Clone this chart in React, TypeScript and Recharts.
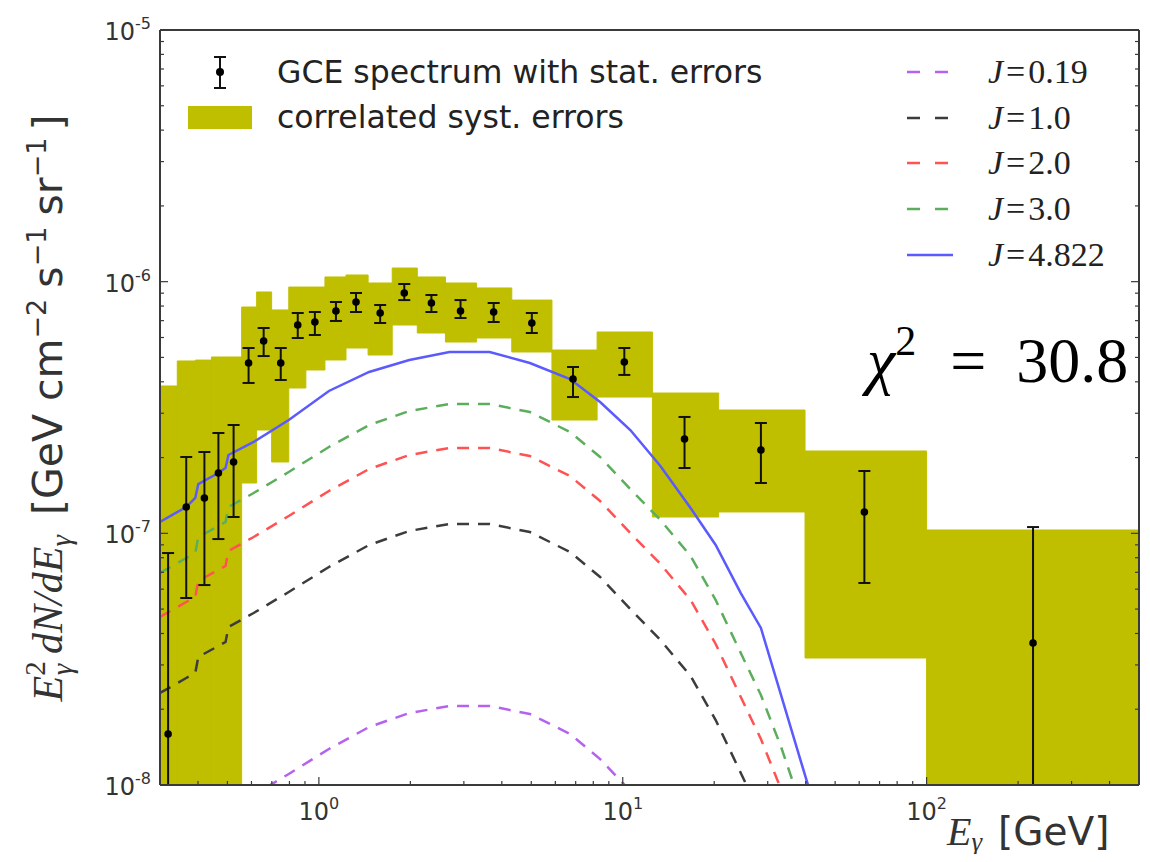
import React from "react";
import {
  ComposedChart,
  XAxis,
  YAxis,
  Line,
  Scatter,
  ErrorBar,
  ReferenceArea,
} from "recharts";

const FRAME = "#3a3a3a";
const OLIVE = "#bfbf00";

// edges (GeV) of the correlated systematic boxes
const binLo = [0.3, 0.342, 0.392, 0.443, 0.497, 0.557, 0.624, 0.699, 0.796, 0.906, 1.047, 1.228, 1.452, 1.743, 2.108, 2.609, 3.304, 4.313, 5.848, 8.234, 12.52, 20.69, 39.8, 100];
const binHi = [0.342, 0.392, 0.443, 0.497, 0.557, 0.624, 0.699, 0.796, 0.906, 1.047, 1.228, 1.452, 1.743, 2.108, 2.609, 3.304, 4.313, 5.848, 8.234, 12.52, 20.69, 39.8, 100, 500];
const sysLow = [1e-8, 1e-8, 1e-8, 1e-8, 1e-8, 1.585e-7, 2.574e-7, 1.921e-7, 3.78e-7, 4.457e-7, 4.885e-7, 5.45e-7, 5.112e-7, 6.726e-7, 6.252e-7, 5.757e-7, 5.973e-7, 5.255e-7, 2.82e-7, 3.48e-7, 1.161e-7, 1.216e-7, 3.196e-8, 1e-8];
const sysHigh = [3.85e-7, 4.84e-7, 4.88e-7, 5.02e-7, 5.02e-7, 7.93e-7, 9.1e-7, 7.72e-7, 9.52e-7, 9.52e-7, 1.044e-6, 1.063e-6, 9.88e-7, 1.133e-6, 1.044e-6, 9.88e-7, 9.44e-7, 8.45e-7, 5.35e-7, 6.31e-7, 3.61e-7, 3.09e-7, 2.124e-7, 1.031e-7];

// GCE spectrum with stat. errors
const gceE = [0.319, 0.366, 0.42, 0.467, 0.524, 0.587, 0.658, 0.749, 0.852, 0.97, 1.138, 1.325, 1.591, 1.91, 2.346, 2.925, 3.76, 5.021, 6.861, 10.12, 15.97, 28.49, 62.4, 224];
const gceV = [1.595e-8, 1.273e-7, 1.382e-7, 1.737e-7, 1.921e-7, 4.751e-7, 5.81e-7, 4.751e-7, 6.726e-7, 6.914e-7, 7.645e-7, 8.303e-7, 7.506e-7, 9.017e-7, 8.227e-7, 7.645e-7, 7.575e-7, 6.851e-7, 4.105e-7, 4.795e-7, 2.37e-7, 2.144e-7, 1.216e-7, 3.666e-8];
const gceLo = [1e-8, 5.535e-8, 6.23e-8, 9.49e-8, 1.161e-7, 3.958e-7, 5.064e-7, 4.068e-7, 5.973e-7, 6.14e-7, 6.98e-7, 7.575e-7, 6.851e-7, 8.45e-7, 7.575e-7, 7.17e-7, 6.914e-7, 6.252e-7, 3.48e-7, 4.26e-7, 1.818e-7, 1.585e-7, 6.35e-8, 1e-8];
const gceHi = [8.35e-8, 2.011e-7, 2.105e-7, 2.504e-7, 2.694e-7, 5.45e-7, 6.544e-7, 5.45e-7, 7.506e-7, 7.575e-7, 8.303e-7, 9.017e-7, 8.076e-7, 9.79e-7, 8.85e-7, 8.45e-7, 8.227e-7, 7.506e-7, 4.58e-7, 5.45e-7, 2.9e-7, 2.744e-7, 1.769e-7, 1.059e-7];

// model curves, sampled on a common energy grid
const modelE = [0.3, 0.366, 0.392, 0.401, 0.46, 0.493, 0.504, 0.61, 0.796, 1.079, 1.463, 1.984, 2.691, 3.648, 4.946, 6.706, 8.424, 10.59, 13.3, 16.72, 20.22, 24.46, 28.49, 33.17, 38.63, 44.98];
const j019 = [4.39e-9, 5.03e-9, 5.27e-9, 6.1e-9, 6.69e-9, 7.0e-9, 8.03e-9, 9.13e-9, 1.106e-8, 1.39e-8, 1.7e-8, 1.932e-8, 2.06e-8, 2.06e-8, 1.915e-8, 1.595e-8, 1.268e-8, 9.47e-9, 7.13e-9, 5.1e-9, 3.4e-9, 2.1e-9, 1.4e-9, 8e-10, 5e-10, 3e-10];
const j10 = [2.32e-8, 2.662e-8, 2.787e-8, 3.226e-8, 3.535e-8, 3.7e-8, 4.245e-8, 4.825e-8, 5.846e-8, 7.35e-8, 8.99e-8, 1.022e-7, 1.089e-7, 1.089e-7, 1.012e-7, 8.43e-8, 6.707e-8, 5.005e-8, 3.769e-8, 2.711e-8, 1.812e-8, 1.116e-8, 7.6e-9, 4.5e-9, 2.5e-9, 1.4e-9];
const j20 = [4.651e-8, 5.337e-8, 5.585e-8, 6.465e-8, 7.087e-8, 7.418e-8, 8.507e-8, 9.67e-8, 1.172e-7, 1.473e-7, 1.801e-7, 2.048e-7, 2.183e-7, 2.183e-7, 2.029e-7, 1.689e-7, 1.344e-7, 1.003e-7, 7.555e-8, 5.434e-8, 3.633e-8, 2.237e-8, 1.523e-8, 9.64e-9, 5.6e-9, 3.4e-9];
const j30 = [6.957e-8, 7.98e-8, 8.35e-8, 9.67e-8, 1.059e-7, 1.109e-7, 1.273e-7, 1.446e-7, 1.753e-7, 2.203e-7, 2.694e-7, 3.062e-7, 3.265e-7, 3.265e-7, 3.034e-7, 2.527e-7, 2.011e-7, 1.5e-7, 1.13e-7, 8.125e-8, 5.434e-8, 3.345e-8, 2.278e-8, 1.42e-8, 8.25e-9, 5.3e-9];
const j4822 = [1.109e-7, 1.273e-7, 1.382e-7, 1.57e-7, 1.721e-7, 1.818e-7, 2.048e-7, 2.307e-7, 2.82e-7, 3.678e-7, 4.377e-7, 4.885e-7, 5.254e-7, 5.254e-7, 4.751e-7, 4.105e-7, 3.324e-7, 2.574e-7, 1.852e-7, 1.261e-7, 8.99e-8, 5.79e-8, 4.206e-8, 2.279e-8, 1.234e-8, 6.69e-9];

const curves = [
  { key: "j019", label: "0.19", color: "#b463f0", dash: "12 9", values: j019 },
  { key: "j10", label: "1.0", color: "#3c3c3c", dash: "12 9", values: j10 },
  { key: "j20", label: "2.0", color: "#ff5252", dash: "12 9", values: j20 },
  { key: "j30", label: "3.0", color: "#5cae5c", dash: "12 9", values: j30 },
  { key: "j4822", label: "4.822", color: "#5a5aff", dash: undefined, values: j4822 },
];

const xTicks = [0.3, 0.4, 0.5, 0.6, 0.7, 0.8, 0.9, 1, 2, 3, 4, 5, 6, 7, 8, 9, 10, 20, 30, 40, 50, 60, 70, 80, 90, 100, 200, 300, 400, 500];
const yTicks = [1e-8, 2e-8, 3e-8, 4e-8, 5e-8, 6e-8, 7e-8, 8e-8, 9e-8, 1e-7, 2e-7, 3e-7, 4e-7, 5e-7, 6e-7, 7e-7, 8e-7, 9e-7, 1e-6, 2e-6, 3e-6, 4e-6, 5e-6, 6e-6, 7e-6, 8e-6, 9e-6, 1e-5];

const modelRows = modelE.map((e, i) => {
  const row: Record<string, number> = { e };
  curves.forEach((c) => (row[c.key] = c.values[i]));
  return row;
});
const gceRows = gceE.map((e, i) => ({
  e,
  v: gceV[i],
  err: [gceV[i] - gceLo[i], gceHi[i] - gceV[i]],
}));

const decade = (v: number) => {
  const l = Math.log10(v);
  return Math.abs(l - Math.round(l)) < 1e-6 ? Math.round(l) : null;
};

const W = 1134;
const H = 846;
const sans = "DejaVu Sans";
const serif = "Liberation Serif";

const BottomTick = (p: any) => {
  const d = decade(p.payload.value);
  return (
    <g>
      <line x1={p.x} x2={p.x} y1={p.y} y2={p.y - (d !== null ? 8 : 4)} stroke={FRAME} strokeWidth={1.2} />
      {d !== null && (
        <text x={p.x} y={p.y + 35} textAnchor="middle" fontFamily={sans} fontSize={24} fill="#333">
          10<tspan dy={-11} fontSize={16}>{d}</tspan>
        </text>
      )}
    </g>
  );
};
const TopTick = (p: any) => {
  const d = decade(p.payload.value);
  return <line x1={p.x} x2={p.x} y1={p.y} y2={p.y + (d !== null ? 8 : 4)} stroke={FRAME} strokeWidth={1.2} />;
};
const LeftTick = (p: any) => {
  const d = decade(p.payload.value);
  return (
    <g>
      <line x1={p.x} x2={p.x + (d !== null ? 8 : 4)} y1={p.y} y2={p.y} stroke={FRAME} strokeWidth={1.2} />
      {d !== null && (
        <text x={p.x - 9} y={p.y + 10} textAnchor="end" fontFamily={sans} fontSize={24} fill="#333">
          10<tspan dy={-11} fontSize={16}>{d}</tspan>
        </text>
      )}
    </g>
  );
};
const RightTick = (p: any) => {
  const d = decade(p.payload.value);
  return <line x1={p.x} x2={p.x - (d !== null ? 8 : 4)} y1={p.y} y2={p.y} stroke={FRAME} strokeWidth={1.2} />;
};

const legendRows = [64, 110, 155, 201, 247];

function Overlay() {
  return (
    <svg width={W} height={H} style={{ position: "absolute", left: 0, top: 0, pointerEvents: "none", overflow: "visible" }}>
      {/* left legend */}
      <line x1={212} x2={212} y1={49} y2={80} stroke="#111" strokeWidth={2} />
      <line x1={206} x2={218} y1={49} y2={49} stroke="#111" strokeWidth={2} />
      <line x1={206} x2={218} y1={80} y2={80} stroke="#111" strokeWidth={2} />
      <circle cx={212} cy={64} r={4} fill="#000" />
      <text x={269} y={75} fontFamily={sans} fontSize={31.5} fill="#222">GCE spectrum with stat. errors</text>
      <rect x={180} y={98} width={64} height={23} fill={OLIVE} />
      <text x={269} y={120} fontFamily={sans} fontSize={31.5} fill="#222">correlated syst. errors</text>

      {/* right legend */}
      {curves.map((c, i) => (
        <g key={c.key}>
          <line x1={899} x2={c.dash ? 940 : 945} y1={legendRows[i]} y2={legendRows[i]} stroke={c.color} strokeWidth={2.5} strokeDasharray={c.dash ? "13 15" : undefined} />
          <text x={980} y={legendRows[i] + 11} fontFamily={serif} fontSize={34} fill="#222">
            <tspan fontStyle="italic">J</tspan>
            <tspan dx={3}>=</tspan>
            <tspan dx={3}>{c.label}</tspan>
          </text>
        </g>
      ))}

      {/* chi^2 */}
      <text x={859} y={374} fontFamily={serif} fontSize={64} fill="#000">
        <tspan fontStyle="italic">χ</tspan>
        <tspan fontSize={42} dy={-27}>2</tspan>
        <tspan dx={34} dy={27}>=</tspan>
        <tspan dx={30}>30.8</tspan>
      </text>

      {/* y label */}
      <text x={54} y={400} transform="rotate(-90 54 400)" textAnchor="middle" fill="#333">
        <tspan fontFamily={serif} fontStyle="italic" fontSize={42}>E</tspan>
        <tspan fontFamily={serif} fontSize={29} dy={-17}>2</tspan>
        <tspan fontFamily={serif} fontStyle="italic" fontSize={29} dx={-14} dy={27}>γ</tspan>
        <tspan fontFamily={serif} fontStyle="italic" fontSize={42} dx={10} dy={-10}>dN/dE</tspan>
        <tspan fontFamily={serif} fontStyle="italic" fontSize={29} dy={9}>γ</tspan>
        <tspan fontFamily={sans} fontSize={41} dx={20} dy={-9}>[GeV cm</tspan>
        <tspan fontFamily={sans} fontSize={27} dy={-16}>−2</tspan>
        <tspan fontFamily={sans} fontSize={41} dx={11} dy={16}>s</tspan>
        <tspan fontFamily={sans} fontSize={27} dy={-16}>−1</tspan>
        <tspan fontFamily={sans} fontSize={41} dx={11} dy={16}>sr</tspan>
        <tspan fontFamily={sans} fontSize={27} dy={-16}>−1</tspan>
        <tspan fontFamily={sans} fontSize={41} dx={7} dy={16}>]</tspan>
      </text>

      {/* x label */}
      <text x={939} y={837} fill="#333">
        <tspan fontFamily={serif} fontStyle="italic" fontSize={40}>E</tspan>
        <tspan fontFamily={serif} fontStyle="italic" fontSize={27} dy={6}>γ</tspan>
        <tspan fontFamily={sans} fontSize={39} dx={16} dy={-6}>[GeV]</tspan>
      </text>
    </svg>
  );
}

export default function App() {
  return (
    <div style={{ position: "relative", width: W, height: H }}>
      <ComposedChart width={W} height={H} data={modelRows} margin={{ top: 12, right: 0, bottom: 19, left: 52 }}>
        <XAxis
          dataKey="e"
          type="number"
          scale="log"
          domain={[0.3, 500]}
          allowDataOverflow
          ticks={xTicks}
          interval={0}
          height={50}
          tickSize={0}
          tickMargin={0}
          tickLine={false}
          tick={<BottomTick />}
          axisLine={{ stroke: FRAME, strokeWidth: 2 }}
        />
        <XAxis
          xAxisId="top"
          orientation="top"
          type="number"
          scale="log"
          domain={[0.3, 500]}
          allowDataOverflow
          ticks={xTicks}
          interval={0}
          height={10}
          tickSize={0}
          tickMargin={0}
          tickLine={false}
          tick={<TopTick />}
          axisLine={{ stroke: FRAME, strokeWidth: 2 }}
        />
        <YAxis
          type="number"
          scale="log"
          domain={[1e-8, 1e-5]}
          allowDataOverflow
          ticks={yTicks}
          interval={0}
          width={100}
          tickSize={0}
          tickMargin={0}
          tickLine={false}
          tick={<LeftTick />}
          axisLine={{ stroke: FRAME, strokeWidth: 2 }}
        />
        <YAxis
          yAxisId="right"
          orientation="right"
          type="number"
          scale="log"
          domain={[1e-8, 1e-5]}
          allowDataOverflow
          ticks={yTicks}
          interval={0}
          width={3}
          tickSize={0}
          tickMargin={0}
          tickLine={false}
          tick={<RightTick />}
          axisLine={{ stroke: FRAME, strokeWidth: 2 }}
        />
        {binLo.map((lo, i) => (
          <ReferenceArea
            key={i}
            x1={lo}
            x2={binHi[i]}
            y1={sysLow[i]}
            y2={sysHigh[i]}
            fill={OLIVE}
            fillOpacity={1}
            stroke={OLIVE}
            strokeWidth={1}
            ifOverflow="hidden"
          />
        ))}
        {curves.map((c) => (
          <Line
            key={c.key}
            dataKey={c.key}
            stroke={c.color}
            strokeWidth={2.5}
            strokeDasharray={c.dash}
            dot={false}
            activeDot={false}
            type="linear"
            isAnimationActive={false}
          />
        ))}
        <Scatter
          data={gceRows}
          dataKey="v"
          isAnimationActive={false}
          shape={(p: any) => <circle cx={p.cx} cy={p.cy} r={3.8} fill="#000" />}
        >
          <ErrorBar dataKey="err" direction="y" width={6} stroke="#111" strokeWidth={2} isAnimationActive={false} />
        </Scatter>
      </ComposedChart>
      <Overlay />
    </div>
  );
}
